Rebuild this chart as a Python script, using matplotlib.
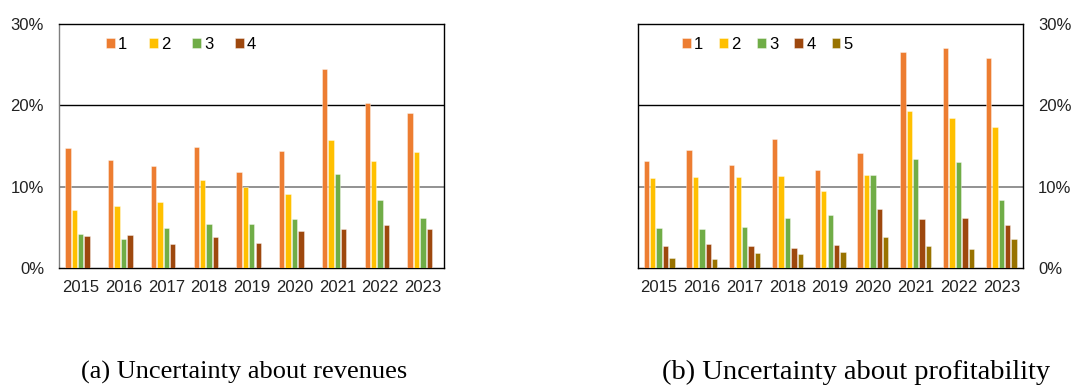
import numpy as np
import matplotlib
matplotlib.use("Agg")
import matplotlib.pyplot as plt
from matplotlib.ticker import PercentFormatter

years = ["2015", "2016", "2017", "2018", "2019", "2020", "2021", "2022", "2023"]
colors = ["#ED7D31", "#FFC000", "#70AD47", "#9E480E", "#997300"]

# (a) uncertainty about revenues, categories 1..4 (%)
rev_1 = [14.8, 13.3, 12.6, 14.9, 11.8, 14.4, 24.5, 20.3, 19.1]
rev_2 = [7.1, 7.6, 8.1, 10.8, 10.0, 9.1, 15.7, 13.2, 14.3]
rev_3 = [4.2, 3.6, 4.9, 5.4, 5.4, 6.0, 11.5, 8.4, 6.2]
rev_4 = [3.9, 4.0, 2.9, 3.8, 3.1, 4.6, 4.8, 5.3, 4.8]

# (b) uncertainty about profitability, categories 1..5 (%)
prof_1 = [13.1, 14.5, 12.7, 15.8, 12.0, 14.1, 26.5, 27.1, 25.8]
prof_2 = [11.1, 11.2, 11.2, 11.3, 9.5, 11.4, 19.3, 18.5, 17.3]
prof_3 = [4.9, 4.8, 5.0, 6.1, 6.5, 11.4, 13.4, 13.0, 8.3]
prof_4 = [2.7, 2.9, 2.7, 2.5, 2.8, 7.3, 6.0, 6.1, 5.3]
prof_5 = [1.2, 1.1, 1.8, 1.7, 2.0, 3.8, 2.7, 2.3, 3.6]

rev = [rev_1, rev_2, rev_3, rev_4]
prof = [prof_1, prof_2, prof_3, prof_4, prof_5]

W, H = 1073, 385
fig = plt.figure(figsize=(W / 100, H / 100), dpi=100)
plt.rcParams['font.family'] = ['Liberation Sans', 'DejaVu Sans']
FS = 12


def panel(rect, series, right, leg_x, colsp):
    ax = fig.add_axes(rect)
    x = np.arange(len(years))
    pitch, bw = 0.15, 0.125
    for j, vals in enumerate(series):
        ax.bar(x + (j - 2) * pitch, vals, bw, color=colors[j],
               edgecolor=(1, 1, 1, 0.45), linewidth=0.6, label=str(j + 1), zorder=3)
    ax.set_xlim(-0.5, len(years) - 0.5)
    ax.set_ylim(0, 30)
    ax.set_yticks([0, 10, 20, 30])
    ax.yaxis.set_major_formatter(PercentFormatter(decimals=0))
    ax.set_xticks(x)
    ax.set_xticklabels(years)
    ax.tick_params(length=0, labelsize=FS, colors="#222222")
    ax.tick_params(axis="x", pad=9)
    ax.tick_params(axis="y", pad=11)
    if right:
        ax.yaxis.tick_right()
    ax.axhline(10, color="#7f7f7f", lw=1.2, zorder=2)
    ax.axhline(20, color="black", lw=1.0, zorder=2)
    for s in ["top", "right", "bottom"]:
        ax.spines[s].set_color("black")
        ax.spines[s].set_linewidth(1.0)
    ax.spines["left"].set_color("#7f7f7f" if not right else "black")
    ax.spines["left"].set_linewidth(1.0)
    ax.legend(loc="center left", bbox_to_anchor=(leg_x, 0.917), ncol=len(series),
              frameon=False, fontsize=FS, borderpad=0, borderaxespad=0,
              handlelength=0.52, handleheight=0.52, handletextpad=0.2,
              columnspacing=colsp)
    return ax


ax_w = 385 / W
ax_h = 244 / H
ax_b = (H - 268) / H
panel([59.3 / W, ax_b, ax_w, ax_h], rev, False, (106 - 59.3) / 385, 1.3)
panel([637.7 / W, ax_b, ax_w, ax_h], prof, True, (682 - 637.7) / 385, 0.97)

fig.text(244 / W, 13 / H, "(a) Uncertainty about revenues", ha="center", va="center",
         fontsize=19, family=["Liberation Serif", "DejaVu Serif"])
fig.text(856 / W, 13 / H, "(b) Uncertainty about profitability", ha="center", va="center",
         fontsize=20.5, family=["Liberation Serif", "DejaVu Serif"])

fig.savefig("out.png", dpi=100)
